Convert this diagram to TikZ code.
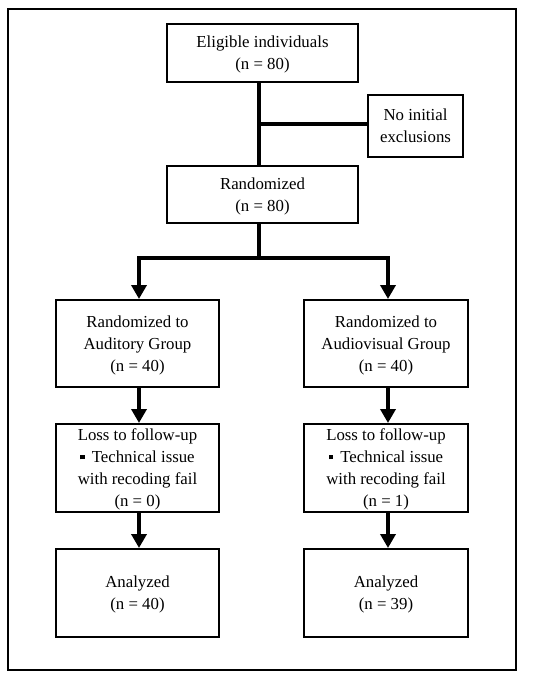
\documentclass[tikz,border=0pt]{standalone}
\usepackage{fontspec}
\setmainfont{Liberation Serif}
\usetikzlibrary{arrows.meta}
\newcommand{\sqbul}{\rule[3.5pt]{4.5pt}{4.5pt}\hspace{7pt}}
\begin{document}
\begin{tikzpicture}[x=1pt,y=-1pt,
  box/.style={draw,line width=2pt,rectangle,align=center,inner sep=0pt,
    font=\fontsize{16.8}{22}\selectfont,text depth=-7.5pt},
  conn/.style={line width=4.3pt},
  arr/.style={line width=4.3pt,-{Triangle[width=15pt,length=14pt]}}]
\useasboundingbox (0,0) rectangle (550,679);
\draw[line width=2pt] (8,9) rectangle (516,670);
\node[box,minimum width=191pt,minimum height=58pt] (elig) at (262.5,53) {Eligible individuals\\(n = 80)};
\node[box,minimum width=95pt,minimum height=62pt] (excl) at (415.5,126) {No initial\\exclusions};
\node[box,minimum width=191pt,minimum height=57pt] (rand) at (262.5,194.5) {Randomized\\(n = 80)};
\node[box,minimum width=163pt,minimum height=87pt] (aud) at (137.5,343.5) {Randomized to\\Auditory Group\\(n = 40)};
\node[box,minimum width=164pt,minimum height=87pt] (av) at (386,343.5) {Randomized to\\Audiovisual Group\\(n = 40)};
\node[box,minimum width=163pt,minimum height=88pt] (lossa) at (137.5,468) {Loss to follow-up\\\sqbul Technical issue\\with recoding fail\\(n = 0)};
\node[box,minimum width=164pt,minimum height=88pt] (lossb) at (386,468) {Loss to follow-up\\\sqbul Technical issue\\with recoding fail\\(n = 1)};
\node[box,minimum width=163pt,minimum height=88pt] (ana) at (137.5,593) {Analyzed\\(n = 40)};
\node[box,minimum width=164pt,minimum height=88pt] (anb) at (386,593) {Analyzed\\(n = 39)};
\coordinate (j1) at (259,124);
\coordinate (j2) at (259,258);
\coordinate (jl) at (139,258);
\coordinate (jr) at (388,258);
\draw[conn] (elig.south -| j1) -- (rand.north -| j1);
\draw[conn] (j1) -- (j1 -| excl.west);
\draw[conn] (rand.south -| j2) -- (j2);
\draw[conn,line cap=rect] (jl) -- (jr);
\draw[arr] (jl) -- (aud.north -| jl);
\draw[arr] (jr) -- (av.north -| jr);
\draw[arr] (aud.south -| jl) -- (lossa.north -| jl);
\draw[arr] (av.south -| jr) -- (lossb.north -| jr);
\draw[arr] (lossa.south -| jl) -- (ana.north -| jl);
\draw[arr] (lossb.south -| jr) -- (anb.north -| jr);
\end{tikzpicture}
\end{document}
